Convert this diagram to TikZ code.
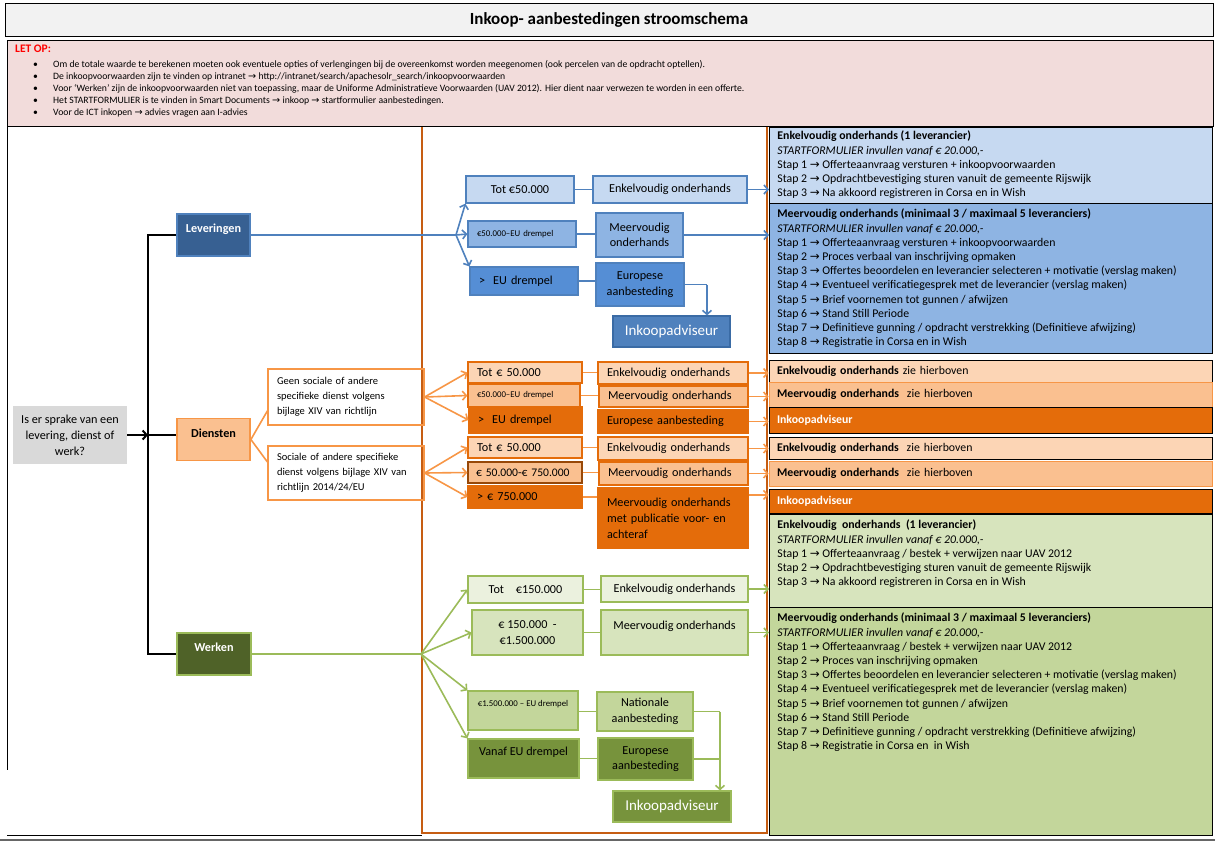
\documentclass[tikz,border=0pt]{standalone}
\usepackage{fontspec}
\setmainfont{Carlito}
\newfontfamily\pijlfont{DejaVu Sans}
\usetikzlibrary{arrows.meta}

\definecolor{roze}{HTML}{F2DCDB}
\definecolor{titelgrijs}{HTML}{F2F2F2}
\definecolor{grijs}{HTML}{D9D9D9}
\definecolor{blauwdonker}{HTML}{376092}
\definecolor{blauwrand}{HTML}{4F81BD}
\definecolor{blauwinkrand}{HTML}{3A6BA5}
\definecolor{blauw1}{HTML}{C6D9F1}
\definecolor{blauw2}{HTML}{8EB4E3}
\definecolor{blauw3}{HTML}{558ED5}
\definecolor{perzik1}{HTML}{FCD5B5}
\definecolor{perzik2}{HTML}{FAC090}
\definecolor{oranje}{HTML}{E46C0A}
\definecolor{oranjelicht}{HTML}{F79646}
\definecolor{oranjebruin}{HTML}{984807}
\definecolor{oranjekader}{HTML}{C65D12}
\definecolor{groen1}{HTML}{EBF1DE}
\definecolor{groen2}{HTML}{D7E4BD}
\definecolor{groen3}{HTML}{C3D69B}
\definecolor{groen4}{HTML}{77933C}
\definecolor{groendonker}{HTML}{4F6228}
\definecolor{groenrand}{HTML}{9BBB59}

\newcommand{\pijl}{{\pijlfont →}}
\newcommand{\opsom}{\makebox[20pt][l]{\textbullet}}

\tikzset{
  vak/.style={draw, line width=1.2pt, inner sep=0pt, align=center,
    font=\fontsize{12.2}{15.5}\selectfont},
  links/.style={align=left, inner xsep=9pt},
  blauwvak/.style={vak, draw=blauwrand},
  oranjevak/.style={vak, draw=oranje},
  groenvak/.style={vak, draw=groenrand},
  klein/.style={font=\fontsize{8.8}{10}\selectfont},
  hoofdvak/.style={draw, line width=1.8pt, minimum width=73, minimum height=42,
    text height=8pt, text depth=13pt, font=\bfseries\fontsize{12.2}{14}\selectfont},
  rvak/.style={draw=black, line width=0.8pt, anchor=north west, inner xsep=8pt,
    inner ysep=4.5pt, font=\fontsize{11.8}{14.2}\selectfont},
  rregel/.style={draw=black, line width=0.8pt, minimum width=443, inner xsep=8pt,
    text width=427, align=left, font=\fontsize{11.8}{14}\selectfont},
  lijn/.style={line width=1.6pt},
  pijl/.style={lijn, -{Straight Barb[length=4pt,width=9pt]}}
}

\begin{document}
\begin{tikzpicture}[x=1pt, y=-1pt]
  \useasboundingbox (0,0) rectangle (1215,841);

  % Titel
  \node[draw, fill=titelgrijs, line width=0.8pt, minimum width=1208, minimum height=33,
    inner sep=0, font=\bfseries\fontsize{17}{19}\selectfont] (titel) at (609,19.5)
    {Inkoop- aanbestedingen stroomschema};

  % LET OP
  \node[draw, fill=roze, line width=0.8pt, minimum width=1206, minimum height=86,
    inner sep=0, anchor=north west] (letop) at (7,40) {};
  \node[anchor=north west, inner sep=0, text=red,
    font=\bfseries\fontsize{11.5}{12}\selectfont] (letoptitel) at (15,45) {LET OP:};
  \node[anchor=north west, inner sep=0, align=left,
    font=\fontsize{9.7}{12}\selectfont] (letoptekst) at (33,60) {%
    \opsom Om de totale waarde te berekenen moeten ook eventuele opties of verlengingen bij de overeenkomst worden meegenomen (ook percelen van de opdracht optellen).\\
    \opsom De inkoopvoorwaarden zijn te vinden op intranet \pijl\ http://intranet/search/apachesolr\_search/inkoopvoorwaarden\\
    \opsom Voor ‘Werken’ zijn de inkoopvoorwaarden niet van toepassing, maar de Uniforme Administratieve Voorwaarden (UAV 2012). Hier dient naar verwezen te worden in een offerte.\\
    \opsom Het STARTFORMULIER is te vinden in Smart Documents \pijl\ inkoop \pijl\ startformulier aanbestedingen.\\
    \opsom Voor de ICT inkopen \pijl\ advies vragen aan I-advies};

  % Kaders
  \draw[line width=0.8pt] (7,126) -- (7,770);
  \draw[line width=0.8pt] (7,835) -- (422,835);
  \draw[line width=1.5pt, gray!80!black] (0,840) -- (1215,840);
  \draw[line width=1.5pt, oranjekader] (422,127) -- (422,833) -- (767,833) -- (767,127);

  % Vraag en hoofdtakken
  \node[fill=grijs, minimum width=114, minimum height=58, inner sep=0, align=center,
    font=\fontsize{12.2}{16}\selectfont] (vraag) at (70,435)
    {Is er sprake van een\\levering, dienst of\\werk?};
  \node[hoofdvak, fill=blauwdonker, draw=blauwrand, text=white] (lev) at (213.5,235) {Leveringen};
  \node[hoofdvak, fill=perzik2, draw=oranjelicht] (dien) at (213.5,439.5) {Diensten};
  \node[hoofdvak, fill=groendonker, draw=groenrand, text=white, minimum width=74] (werk) at (214,654) {Werken};

  % Diensten soorten
  \node[vak, draw=oranjelicht, links, text width=138, minimum width=154, minimum height=56,
    font=\fontsize{10.5}{15}\selectfont] (dA) at (346,397)
    {Geen sociale of andere\\specifieke dienst volgens\\bijlage XIV van richtlijn};
  \node[vak, draw=oranjelicht, links, text width=138, minimum width=154, minimum height=54,
    font=\fontsize{10.5}{15}\selectfont] (dB) at (346,473)
    {Sociale of andere specifieke\\dienst volgens bijlage XIV van\\richtlijn 2014/24/EU};

  % Leveringen
  \node[blauwvak, fill=blauw1, minimum width=108, minimum height=27] (lTot) at (520,189.5) {Tot €50.000};
  \node[blauwvak, fill=blauw2, minimum width=108, minimum height=26, links, text width=90, klein] (lMid) at (522,234) {€50.000–EU drempel};
  \node[blauwvak, fill=blauw3, minimum width=108, minimum height=28, links, text width=90] (lEU) at (524,281) {>\ \ EU drempel};
  \node[blauwvak, fill=blauw1, minimum width=154, minimum height=27] (lEnk) at (670,189.5) {Enkelvoudig onderhands};
  \node[blauwvak, fill=blauw2, minimum width=87, minimum height=44] (lMeer) at (639.5,235) {Meervoudig\\onderhands};
  \node[blauwvak, fill=blauw3, minimum width=88, minimum height=43] (lEur) at (640,284.5) {Europese\\aanbesteding};
  \node[blauwvak, fill=blauwrand, draw=blauwinkrand, text=white, minimum width=117, minimum height=31,
    font=\fontsize{15}{17}\selectfont] (lInk) at (671.5,331.5) {Inkoopadviseur};

  % Diensten
  \node[oranjevak, fill=perzik1, minimum width=114, minimum height=21, links, text width=96] (dTot1) at (525,372.5) {Tot € 50.000};
  \node[oranjevak, fill=perzik2, minimum width=112, minimum height=23, links, text width=94, klein] (dMid1) at (524,395.5) {€50.000–EU drempel};
  \node[oranjevak, fill=oranje, minimum width=113, minimum height=26, links, text width=95] (dEU1) at (525.5,420) {>\ \ EU drempel};
  \node[oranjevak, fill=perzik1, minimum width=150, minimum height=22, links, text width=132] (dEnk1) at (673,373) {Enkelvoudig onderhands};
  \node[oranjevak, fill=perzik2, minimum width=149, minimum height=21, links, text width=131] (dMeer1) at (673.5,396.5) {Meervoudig onderhands};
  \node[oranjevak, fill=oranje, minimum width=150, minimum height=23, links, text width=132] (dEur1) at (673,421.5) {Europese aanbesteding};
  \node[oranjevak, fill=perzik1, minimum width=114, minimum height=21, links, text width=96] (dTot2) at (525,447.5) {Tot € 50.000};
  \node[oranjevak, fill=perzik2, draw=oranjebruin, minimum width=114, minimum height=21, links, inner xsep=8pt,
    text width=98, font=\fontsize{11.6}{14}\selectfont] (dMid2) at (525,472.5) {\mbox{€ 50.000-€ 750.000}};
  \node[oranjevak, fill=oranje, minimum width=114, minimum height=22, links, text width=96] (dHoog2) at (525,497) {> € 750.000};
  \node[oranjevak, fill=perzik1, minimum width=150, minimum height=23, links, text width=132] (dEnk2) at (673,448.5) {Enkelvoudig onderhands};
  \node[oranjevak, fill=perzik2, minimum width=149, minimum height=23, links, text width=131] (dMeer2) at (673.5,473.5) {Meervoudig onderhands};
  \node[oranjevak, fill=oranje, minimum width=150, minimum height=60, links, text width=132,
    font=\fontsize{12.2}{16}\selectfont] (dPub) at (673,518) {Meervoudig onderhands\\met publicatie voor- en\\achteraf};

  % Werken
  \node[groenvak, fill=groen1, minimum width=115, minimum height=27] (wTot) at (525.5,589.5) {Tot\hspace{12pt}€150.000};
  \node[groenvak, fill=groen2, minimum width=111, minimum height=45] (wMid) at (527.5,632.5) {€ 150.000\ \ -\\€1.500.000};
  \node[groenvak, fill=groen3, minimum width=110, minimum height=39, klein, text height=6pt, text depth=14pt] (wEUd) at (523,710.5) {€1.500.000 – EU drempel};
  \node[groenvak, fill=groen4, minimum width=111, minimum height=39, text height=8pt, text depth=14pt] (wVanaf) at (523.5,758.5) {Vanaf EU drempel};
  \node[groenvak, fill=groen1, minimum width=147, minimum height=26] (wEnk) at (674.5,589) {Enkelvoudig onderhands};
  \node[groenvak, fill=groen2, minimum width=147, minimum height=45, text height=8pt, text depth=14pt] (wMeer) at (674.5,632.5) {Meervoudig onderhands};
  \node[groenvak, fill=groen3, minimum width=96, minimum height=39] (wNat) at (645,711.5) {Nationale\\aanbesteding};
  \node[groenvak, fill=groen4, minimum width=95, minimum height=42] (wEur) at (645.5,759) {Europese\\aanbesteding};
  \node[groenvak, fill=groen4, text=white, minimum width=118, minimum height=31,
    font=\fontsize{15}{17}\selectfont] (wInk) at (672,806.5) {Inkoopadviseur};

  % Rechterkolom
  \node[rvak, fill=blauw1, inner ysep=2.5pt] (r1) at (769,127) {\parbox[c][71pt][t]{427pt}{\strut
    \textbf{Enkelvoudig onderhands (1 leverancier)}\\
    \textit{STARTFORMULIER invullen vanaf € 20.000,-}\\
    Stap 1 \pijl\ Offerteaanvraag versturen + inkoopvoorwaarden\\
    Stap 2 \pijl\ Opdrachtbevestiging sturen vanuit de gemeente Rijswijk\\
    Stap 3 \pijl\ Na akkoord registreren in Corsa en in Wish}};
  \node[rvak, fill=blauw2] (r2) at (769,203) {\parbox[c][141pt][t]{427pt}{\strut
    \textbf{Meervoudig onderhands (minimaal 3 / maximaal 5 leveranciers)}\\
    \textit{STARTFORMULIER invullen vanaf € 20.000,-}\\
    Stap 1 \pijl\ Offerteaanvraag versturen + inkoopvoorwaarden\\
    Stap 2 \pijl\ Proces verbaal van inschrijving opmaken\\
    Stap 3 \pijl\ Offertes beoordelen en leverancier selecteren + motivatie (verslag maken)\\
    Stap 4 \pijl\ Eventueel verificatiegesprek met de leverancier (verslag maken)\\
    Stap 5 \pijl\ Brief voornemen tot gunnen / afwijzen\\
    Stap 6 \pijl\ Stand Still Periode\\
    Stap 7 \pijl\ Definitieve gunning / opdracht verstrekking (Definitieve afwijzing)\\
    Stap 8 \pijl\ Registratie in Corsa en in Wish}};
  \node[rregel, fill=perzik1, minimum height=22] (r3) at (990.5,371) {\textbf{Enkelvoudig onderhands} zie hierboven};
  \node[rregel, fill=perzik2, draw=oranjelicht, minimum height=25] (r4) at (990.5,394.5) {\textbf{Meervoudig onderhands}\ \ zie hierboven};
  \node[rregel, fill=oranje, text=white, minimum height=26] (r5) at (990.5,420) {\textbf{Inkoopadviseur}};
  \node[rregel, fill=perzik1, minimum height=22] (r6) at (990.5,448) {\textbf{Enkelvoudig onderhands}\ \ zie hierboven};
  \node[rregel, fill=perzik2, draw=oranjelicht, minimum height=25] (r7) at (990.5,473.5) {\textbf{Meervoudig onderhands}\ \ zie hierboven};
  \node[rregel, fill=oranje, text=white, minimum height=24] (r8) at (990.5,501) {\textbf{Inkoopadviseur}};
  \node[rvak, fill=groen2] (r9) at (769,514) {\parbox[c][84pt][t]{427pt}{\strut
    \textbf{Enkelvoudig\ \ onderhands\ \ (1 leverancier)}\\
    \textit{STARTFORMULIER invullen vanaf € 20.000,-}\\
    Stap 1 \pijl\ Offerteaanvraag / bestek + verwijzen naar UAV 2012\\
    Stap 2 \pijl\ Opdrachtbevestiging sturen vanuit de gemeente Rijswijk\\
    Stap 3 \pijl\ Na akkoord registreren in Corsa en in Wish}};
  \node[rvak, fill=groen3] (r10) at (769,607) {\parbox[c][219pt][t]{427pt}{\strut
    \textbf{Meervoudig onderhands (minimaal 3 / maximaal 5 leveranciers)}\\
    \textit{STARTFORMULIER invullen vanaf € 20.000,-}\\
    Stap 1 \pijl\ Offerteaanvraag / bestek + verwijzen naar UAV 2012\\
    Stap 2 \pijl\ Proces van inschrijving opmaken\\
    Stap 3 \pijl\ Offertes beoordelen en leverancier selecteren + motivatie (verslag maken)\\
    Stap 4 \pijl\ Eventueel verificatiegesprek met de leverancier (verslag maken)\\
    Stap 5 \pijl\ Brief voornemen tot gunnen / afwijzen\\
    Stap 6 \pijl\ Stand Still Periode\\
    Stap 7 \pijl\ Definitieve gunning / opdracht verstrekking (Definitieve afwijzing)\\
    Stap 8 \pijl\ Registratie in Corsa en\ \ in Wish}};

  % Stam
  \coordinate (splits) at (148,435);
  \draw[pijl, line width=2pt] (vraag.east) -- (splits);
  \draw[lijn, line width=2.2pt] (lev.west) -| (splits) |- (werk.west);
  \draw[lijn, line width=2.2pt] (splits) -- (splits -| dien.west);

  % Leveringen pijlen
  \coordinate (levsplits) at (456,235);
  \draw[lijn, blauwrand] (lev.east) -- (levsplits);
  \draw[pijl, blauwrand] (levsplits) -- (lTot.south west);
  \draw[pijl, blauwrand] (levsplits) -- (lMid.west);
  \draw[pijl, blauwrand] (levsplits) -- (lEU.north west);
  \draw[lijn, blauwrand] (lTot.east) -- (lEnk.west);
  \draw[lijn, blauwrand] (lMid.east) -- (lMid.east -| lMeer.west);
  \draw[lijn, blauwrand] (lEU.east) -- (lEU.east -| lEur.west);
  \coordinate (levknik) at (707,284.5);
  \draw[lijn, blauwrand] (lEur.east) -- (levknik);
  \draw[pijl, blauwrand] (levknik) -- (levknik |- lInk.north);
  \draw[pijl, blauwrand] (lEnk.east) -- (lEnk.east -| r1.west);
  \draw[pijl, blauwrand] (lMeer.east) -- (lMeer.east -| r2.west);

  % Diensten pijlen
  \draw[lijn, oranjelicht] (dien.east) -- (dA.190);
  \draw[lijn, oranjelicht] (dien.east) -- (dB.172);
  \draw[pijl, oranjelicht] (dA.east) -- (dTot1.west);
  \draw[pijl, oranjelicht] (dA.east) -- (dMid1.west);
  \draw[pijl, oranjelicht] (dA.east) -- (dEU1.west);
  \draw[pijl, oranjelicht] (dB.east) -- (dTot2.west);
  \draw[pijl, oranjelicht] (dB.east) -- (dMid2.west);
  \draw[pijl, oranjelicht] (dB.east) -- (dHoog2.west);
  \draw[lijn, oranjelicht] (dTot1.east) -- (dTot1.east -| dEnk1.west);
  \draw[lijn, oranjelicht] (dMid1.east) -- (dMid1.east -| dMeer1.west);
  \draw[lijn, oranjelicht] (dTot2.east) -- (dTot2.east -| dEnk2.west);
  \draw[lijn, oranjelicht] (dMid2.east) -- (dMid2.east -| dMeer2.west);
  \draw[lijn, oranjelicht] (dHoog2.east) -- (dHoog2.east -| dPub.west);
  \draw[pijl, oranjelicht] (dEnk1.east) -- (dEnk1.east -| r3.west);
  \draw[pijl, oranjelicht] (dMeer1.east) -- (dMeer1.east -| r4.west);
  \draw[pijl, oranjelicht] (dEur1.east) -- (dEur1.east -| r5.west);
  \draw[pijl, oranjelicht] (dEnk2.east) -- (dEnk2.east -| r6.west);
  \draw[pijl, oranjelicht] (dMeer2.east) -- (dMeer2.east -| r7.west);
  \draw[pijl, oranjelicht] (dPub.17) -- (dPub.17 -| r8.west);

  % Werken pijlen
  \coordinate (werksplits) at (421,654);
  \draw[lijn, groenrand] (werk.east) -- (werksplits);
  \draw[pijl, groenrand] (werksplits) -- (wTot.west);
  \draw[pijl, groenrand] (werksplits) -- (wMid.west);
  \draw[pijl, groenrand] (werksplits) -- (wEUd.north west);
  \draw[pijl, groenrand] (werksplits) -- (wVanaf.north west);
  \draw[lijn, groenrand] (wTot.east) -- (wTot.east -| wEnk.west);
  \draw[lijn, groenrand] (wMid.east) -- (wMid.east -| wMeer.west);
  \draw[lijn, groenrand] (wNat.west) -- (wNat.west -| wEUd.east);
  \draw[lijn, groenrand] (wVanaf.east) -- (wVanaf.east -| wEur.west);
  \coordinate (werkknik) at (720,711.5);
  \draw[lijn, groenrand] (wNat.east) -- (werkknik);
  \draw[lijn, groenrand] (wEur.east) -- (wEur.east -| werkknik);
  \draw[pijl, groenrand] (werkknik) -- (werkknik |- wInk.north);
  \draw[pijl, groenrand] (wEnk.east) -- (wEnk.east -| r9.west);
  \draw[pijl, groenrand] (wMeer.east) -- (wMeer.east -| r10.west);
\end{tikzpicture}
\end{document}
